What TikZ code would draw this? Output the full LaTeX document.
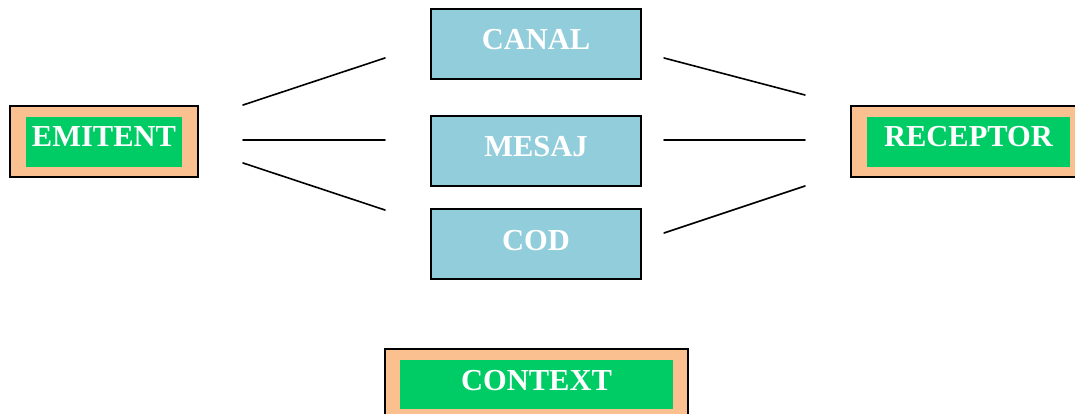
\documentclass[tikz,border=0pt]{standalone}
\usepackage{fontspec}
\setmainfont{Liberation Serif}
\definecolor{peach}{HTML}{FAC090}
\definecolor{grn}{HTML}{00CC66}
\definecolor{lblue}{HTML}{92CDDC}
\begin{document}
\begin{tikzpicture}[x=1pt,y=-1pt,
  outerbox/.style={draw=black,line width=1.4pt,fill=peach,rectangle,inner sep=0pt},
  innerbox/.style={fill=grn,rectangle,inner sep=0pt},
  bluebox/.style={draw=black,line width=1.4pt,fill=lblue,rectangle,inner sep=0pt,minimum width=210pt,minimum height=70pt},
  lbl/.style={anchor=base,text=white,font=\bfseries\fontsize{30.5}{32}\selectfont,inner sep=0pt},
  conn/.style={line width=1.6pt,line cap=round}]
\useasboundingbox (0,0) rectangle (1075,414);
\clip (0,0) rectangle (1075,414);
% EMITENT
\node[outerbox,minimum width=188pt,minimum height=71pt] (emo) at (104,141.5) {};
\node[innerbox,minimum width=156pt,minimum height=50pt] (emi) at (104,142) {};
\node[lbl] (emt) at (104,147) {EMITENT};
% RECEPTOR
\node[outerbox,minimum width=234pt,minimum height=71pt] (reo) at (968,141.5) {};
\node[innerbox,minimum width=203pt,minimum height=50pt] (rei) at (968.5,142) {};
\node[lbl] (ret) at (968.5,147) {RECEPTOR};
% CONTEXT
\node[outerbox,minimum width=303pt,minimum height=80pt] (coo) at (536.5,389) {};
\node[innerbox,minimum width=273pt,minimum height=49pt] (coi) at (536.5,384.5) {};
\node[lbl] (cot) at (536.5,390) {CONTEXT};
% blue boxes
\node[bluebox] (canal) at (536,44) {};
\node[lbl] (canalt) at (536,50) {CANAL};
\node[bluebox] (mesaj) at (536,151) {};
\node[lbl] (mesajt) at (536,157) {MESAJ};
\node[bluebox] (cod) at (536,244) {};
\node[lbl] (codt) at (536,250) {COD};
% connector end points
\coordinate (l1a) at (243,105); \coordinate (l1b) at (385,58);
\coordinate (l2a) at (243,140); \coordinate (l2b) at (385,140);
\coordinate (l3a) at (243,163); \coordinate (l3b) at (385,210);
\coordinate (r1a) at (664,58); \coordinate (r1b) at (805,95);
\coordinate (r2a) at (664,140); \coordinate (r2b) at (805,140);
\coordinate (r3a) at (664,233); \coordinate (r3b) at (805,186);
\draw[conn] (l1a) -- (l1b);
\draw[conn] (l2a) -- (l2b);
\draw[conn] (l3a) -- (l3b);
\draw[conn] (r1a) -- (r1b);
\draw[conn] (r2a) -- (r2b);
\draw[conn] (r3a) -- (r3b);
\end{tikzpicture}
\end{document}
